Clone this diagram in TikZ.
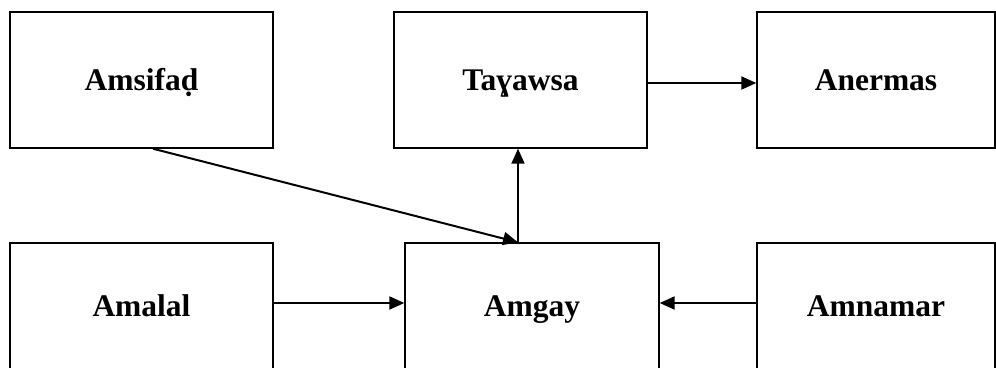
\documentclass[tikz,border=0pt]{standalone}
\usepackage{fontspec}
\setmainfont{Liberation Serif}
\usetikzlibrary{positioning,arrows.meta,calc}

\begin{document}
\begin{tikzpicture}[
    x=1pt, y=-1pt,
    >={Triangle[length=15pt, width=13pt]},
    box/.style={rectangle, draw, line width=1.4pt, minimum height=136pt, text height=24pt, text depth=4pt, font=\fontsize{31.5}{36}\selectfont\bfseries},
    link/.style={->, line width=2pt}
]
\useasboundingbox (0,0) rectangle (996,367);

% === Top row ===
\node[box, minimum width=263pt] (amsifad) at (141.5, 80) {Amsifaḍ};
\node[box, minimum width=253pt] (tayawsa) at (520.5, 80) {Taɣawsa};
\node[box, minimum width=238pt] (anermas) at (876, 80) {Anermas};

% === Bottom row (cut off at the lower edge) ===
\node[box, minimum width=263pt, minimum height=126pt] (amalal) at (141.5, 306) {Amalal};
\node[box, minimum width=254pt, minimum height=126pt] (amgay) at (532, 306) {Amgay};
\node[box, minimum width=238pt, minimum height=126pt] (amnamar) at (876, 306) {Amnamar};

% Arrows
\coordinate (top) at ($(amgay.north)+(-14,0)$);
\draw[link] ($(amsifad.south)+(11.5,0)$) -- (top);
\draw[link] (top) -- (top |- tayawsa.south);
\draw[link] ($(tayawsa.east)+(0,3)$) -- ($(anermas.west)+(0,3)$);
\draw[link] ($(amalal.east)+(0,-3)$) -- ($(amgay.west)+(0,-3)$);
\draw[link] ($(amnamar.west)+(0,-3)$) -- ($(amgay.east)+(0,-3)$);
\end{tikzpicture}
\end{document}
